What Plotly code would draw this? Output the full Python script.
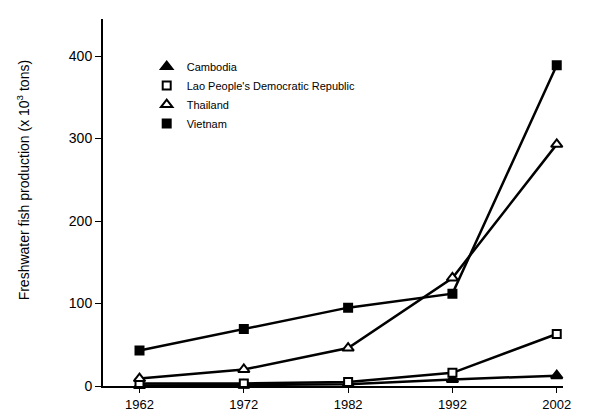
import plotly.graph_objects as go

years = [1962, 1972, 1982, 1992, 2002]
cambodia = [0.5, 1, 2, 8, 12.5]
lao = [3, 3, 5, 16, 63]
thailand = [9, 20, 46, 131, 293]
vietnam = [43, 69, 95, 112, 389]

series = [
    ("Cambodia", cambodia, "triangle-up", "black", 10),
    ("Lao People's Democratic Republic", lao, "square", "white", 8),
    ("Thailand", thailand, "triangle-up", "white", 10),
    ("Vietnam", vietnam, "square", "black", 8),
]

fig = go.Figure()
for name, vals, sym, fill, sz in series:
    fig.add_trace(go.Scatter(
        x=years, y=vals, mode="lines+markers", name=name, showlegend=False,
        line=dict(color="black", width=2.5),
        marker=dict(symbol=sym, size=sz, color=fill,
                    line=dict(color="black", width=2)),
        cliponaxis=False,
    ))
for name, vals, sym, fill, sz in series:
    fig.add_trace(go.Scatter(
        x=[None], y=[None], mode="markers", name=name,
        marker=dict(symbol=sym, size=sz, color=fill, line=dict(color="black", width=2)),
    ))

fig.update_layout(
    width=607, height=415,
    margin=dict(l=95, r=52, t=11, b=34),
    plot_bgcolor="white", paper_bgcolor="white",
    font=dict(family="Liberation Sans, Arial", color="black", size=13),
    legend=dict(x=0.095, y=0.91, xanchor="left", yanchor="top",
                bgcolor="rgba(0,0,0,0)", font=dict(size=11), tracegroupgap=0),
    xaxis=dict(range=[1958.5, 2002.6], tickvals=years, ticktext=[str(y) for y in years],
               showline=True, linecolor="black", linewidth=2, ticks="outside",
               ticklen=5, tickcolor="black", showgrid=False, zeroline=False,
               tickfont=dict(size=13)),
    yaxis=dict(range=[0, 445], tickvals=[0, 100, 200, 300, 400],
               showline=True, linecolor="black", linewidth=2, ticks="outside",
               ticklen=6, tickcolor="black", showgrid=False, zeroline=False,
               tickfont=dict(size=14)),
)
fig.add_annotation(text="Freshwater fish production (x 10<sup>3</sup> tons)",
                   xref="paper", yref="paper", x=-0.172, y=0.56,
                   xanchor="center", yanchor="middle", textangle=-90,
                   showarrow=False, font=dict(size=14))
fig.add_shape(type="line", xref="paper", yref="y", x0=0, x1=0, y0=0, y1=-9,
              line=dict(color="black", width=2))

fig.write_html("out.html")
